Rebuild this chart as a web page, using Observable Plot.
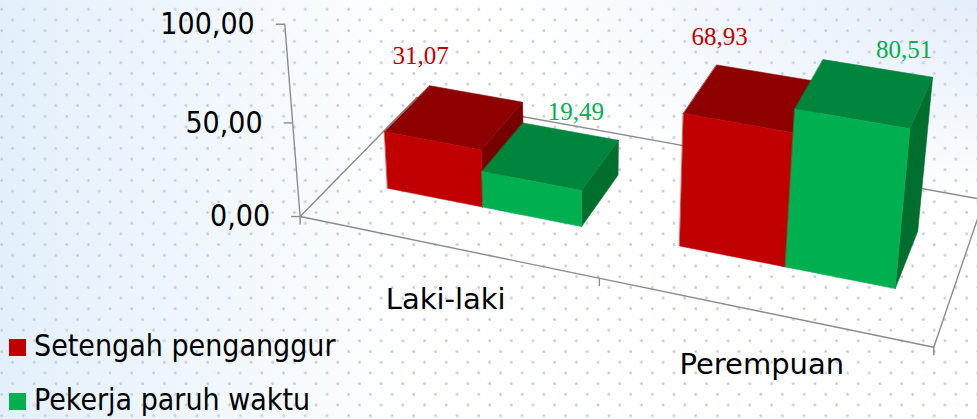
<!DOCTYPE html>
<html><head><meta charset="utf-8">
<script src="https://cdn.jsdelivr.net/npm/d3@7"></script>
<script src="https://cdn.jsdelivr.net/npm/@observablehq/plot@0.6"></script>
<style>
html,body{margin:0;padding:0;}
body{width:977px;height:419px;overflow:hidden;position:relative;
background:
 radial-gradient(circle at 1.7px 9.3px, #c3cdef 1.1px, rgba(255,255,255,0) 1.7px) 0 0/21.7px 21.4px,
 radial-gradient(circle at 12.5px 20px, #c3cdef 1.1px, rgba(255,255,255,0) 1.7px) 0 0/21.7px 21.4px,
 radial-gradient(ellipse at 100% 0%, #e4eefa 0%, rgba(255,255,255,0) 35%),
 linear-gradient(90deg, #e3f0fb 0%, #f1f7fd 22%, #ffffff 42%, #ffffff 100%);}
#chart{position:absolute;left:0;top:0;}
.lg{position:absolute;left:9px;height:30px;line-height:30px;white-space:nowrap;
 font-family:"DejaVu Sans Condensed","DejaVu Sans",sans-serif;font-stretch:condensed;font-size:30px;color:#000;padding-left:25px;}
.lg .sw{position:absolute;left:0;top:8px;width:17px;height:17px;}
</style></head>
<body><div id="chart"></div>
<script>
// ---- data ----
const categories = ["Laki-laki", "Perempuan"];
const seriesNames = ["Setengah penganggur", "Pekerja paruh waktu"];
const setengahPenganggur = [31.07, 68.93];
const pekerjaParuhWaktu = [19.49, 80.51];
const yTicks = [0, 50, 100];
const yTickLabels = ["0,00", "50,00", "100,00"];
const valueLabels = [["31,07", "68,93"], ["19,49", "80,51"]];

// ---- 3D view (camera matrix of the perspective view, layout only) ----
const S = 20; // value units per world unit
const CAM = [87.04581,-5.863617,35.51469,387.1653,15.31432,-37.65324,-22.41197,187.7430,-0.01708307,-0.01011527,0.02651465];
const GROUP = 2.96;   // category spacing (bar widths)
const DEPTH = 1.84;   // bar depth (bar widths)
const XL = -0.54, XR = 5.446, ZF = -1.37, ZB = 3.264; // floor extent
function proj(X, V, Z){
 const Y = V / S, p = CAM;
 const w = p[8]*X + p[9]*Y + p[10]*Z + 1;
 return [(p[0]*X + p[1]*Y + p[2]*Z + p[3]) / w, (p[4]*X + p[5]*Y + p[6]*Z + p[7]) / w];
}

// ---- geometry ----
const seriesValues=[setengahPenganggur, pekerjaParuhWaktu];
const colors=[{front:"#c00000",top:"#8e0000",side:"#760000",label:"#c00000"},{front:"#00b050",top:"#00853c",side:"#006f2e",label:"#00b050"}];
const faces=[], labels=[];
categories.forEach((c,i)=>{
 seriesValues.forEach((vals,s)=>{
  const v=vals[i], X0=i*GROUP+s, X1=X0+1;
  const quad=(id,pts,fill)=>pts.forEach(q=>{const [x,y]=proj(...q);faces.push({id,x,y,fill});});
  quad(`${i}-${s}-side`,[[X1,0,0],[X1,0,DEPTH],[X1,v,DEPTH],[X1,v,0]],colors[s].side);
  quad(`${i}-${s}-top`,[[X0,v,0],[X1,v,0],[X1,v,DEPTH],[X0,v,DEPTH]],colors[s].top);
  quad(`${i}-${s}-front`,[[X0,0,0],[X1,0,0],[X1,v,0],[X0,v,0]],colors[s].front);
  if(s===0){const [cx,cy]=proj((X0+X1)/2,v,DEPTH/2);labels.push({x:cx-34,y:cy-61,text:valueLabels[s][i],fill:colors[s].label});}
  else{const [cx,cy]=proj(X1,v,0);labels.push({x:cx-5.7,y:cy-79,text:valueLabels[s][i],fill:colors[s].label});}
 });
});
const floorLines=[];
const addLine=(id,pts)=>pts.forEach(q=>{const [x,y]=proj(...q);floorLines.push({id,x,y});});
addLine("back",[[XL,0,ZB],[XR,0,ZB]]);
addLine("left",[[XL,0,ZF],[XL,0,ZB]]);
addLine("right",[[XR,0,ZF],[XR,0,ZB]]);
addLine("front",[[XL,0,ZF],[XR,0,ZF]]);
addLine("axis",[[XL,0,ZF],[XL,100,ZF]]);
const tickLen=9;
const yTickData=yTicks.map((t,k)=>{const [x,y]=proj(XL,t,ZF);return {x,y,label:yTickLabels[k]};});
const catW=(XR-XL)/categories.length;
const xTickData=d3.range(categories.length+1).map(k=>{const [x,y]=proj(XL+k*catW,0,ZF);return {x,y};});
const catLabelData=categories.map((c,k)=>{const [x,y]=proj(XL+(k+0.5)*catW,0,ZF);return {x,y,label:c};});

const W=977,H=419;
const sans="DejaVu Sans Condensed, DejaVu Sans, sans-serif";
const chart=Plot.plot({
 width:W,height:H,margin:0,
 x:{domain:[0,W],range:[0,W],axis:null},
 y:{domain:[0,H],range:[0,H],axis:null},
 style:{background:"transparent",overflow:"visible"},
 marks:[
  Plot.line(floorLines,{x:"x",y:"y",z:"id",stroke:"#8c8c8c",strokeWidth:1.4}),
  Plot.link(yTickData,{x1:d=>d.x-tickLen,x2:"x",y1:"y",y2:"y",stroke:"#8c8c8c",strokeWidth:1.4}),
  Plot.link(xTickData,{x1:"x",x2:"x",y1:"y",y2:d=>d.y+8,stroke:"#8c8c8c",strokeWidth:1.4}),
  Plot.text(yTickData,{x:d=>d.x-tickLen-21,y:"y",text:"label",textAnchor:"end",fontSize:30,fill:"#000",fontFamily:sans}),
  Plot.text(catLabelData,{x:"x",y:d=>d.y+62,text:"label",textAnchor:"middle",lineAnchor:"bottom",fontSize:29,fill:"#000",fontFamily:"DejaVu Sans, sans-serif"}),
  Plot.line(faces,{x:"x",y:"y",z:"id",fill:"fill",stroke:"fill",strokeWidth:0.6,curve:"linear-closed"}),
  Plot.text(labels,{x:"x",y:"y",text:"text",fill:"fill",fontSize:25,fontFamily:"Liberation Serif, Times New Roman, serif"})
 ]
});
document.getElementById("chart").appendChild(chart);
const legendTops=[331.3,384.6];
seriesNames.forEach((n,s)=>{
 const d=document.createElement("div");d.className="lg";d.style.top=legendTops[s]+"px";
 d.innerHTML=`<span class="sw" style="background:${colors[s].front}"></span>${n}`;
 document.body.appendChild(d);
});
</script></body></html>
